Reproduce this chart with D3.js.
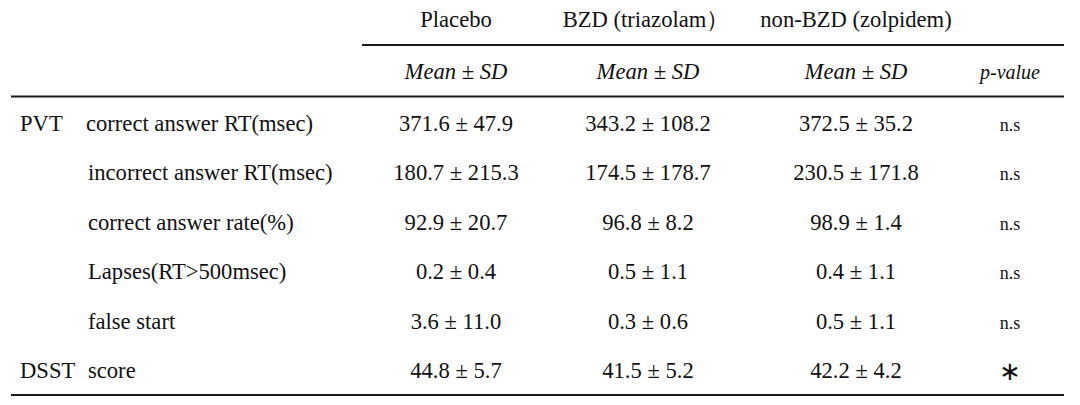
<!DOCTYPE html>
<html>
<head>
<meta charset="utf-8">
<script src="https://cdn.jsdelivr.net/npm/d3@7"></script>
<style>
  html, body { margin: 0; padding: 0; background: #fff; }
  svg { display: block; }
</style>
</head>
<body>
<svg id="chart" width="1080" height="405"></svg>
<script>
// ---- data ----
const groups = ["Placebo", "BZD (triazolam\uFF09", "non-BZD (zolpidem)"];
const subHeaders = ["Mean \u00B1 SD", "Mean \u00B1 SD", "Mean \u00B1 SD", "p-value"];
const tests = ["PVT", "", "", "", "", "DSST"];
const measures = ["correct answer RT(msec)", "incorrect answer RT(msec)", "correct answer rate(%)", "Lapses(RT>500msec)", "false start", "score"];
const placeboMean = [371.6, 180.7, 92.9, 0.2, 3.6, 44.8];
const placeboSD   = [47.9, 215.3, 20.7, 0.4, 11.0, 5.7];
const bzdMean     = [343.2, 174.5, 96.8, 0.5, 0.3, 41.5];
const bzdSD       = [108.2, 178.7, 8.2, 1.1, 0.6, 5.2];
const zolMean     = [372.5, 230.5, 98.9, 0.4, 0.5, 42.2];
const zolSD       = [35.2, 171.8, 1.4, 1.1, 1.1, 4.2];
const pValues     = ["n.s", "n.s", "n.s", "n.s", "n.s", "\u2217"];

// ---- layout ----
const FONT = "'Liberation Serif', 'Times New Roman', Times, 'DejaVu Serif', serif";
const svg = d3.select("#chart")
  .attr("font-family", FONT)
  .style("font-family", FONT);
const colKeys = ["placebo", "bzd", "zol", "p"];
const x = d3.scaleOrdinal().domain(colKeys).range([456, 648, 856, 1010]);
const y = d3.scaleLinear().domain([0, measures.length - 1]).range([131, 378]);
const fs = 22.6;

// rules
const rules = [
  { x1: 362, x2: 1064, y: 45 },
  { x1: 11, x2: 1064, y: 96.5 },
  { x1: 11, x2: 1064, y: 395 }
];
svg.selectAll("line.rule").data(rules).join("line")
  .attr("class", "rule")
  .attr("x1", d => d.x1).attr("x2", d => d.x2)
  .attr("y1", d => d.y).attr("y2", d => d.y)
  .attr("stroke", "#1a1a1a").attr("stroke-width", 2);

function txt(sel) {
  return sel.attr("fill", "#111").style("font-family", FONT).attr("font-size", fs);
}

// group headers
txt(svg.selectAll("text.group").data(groups).join("text"))
  .attr("class", "group")
  .attr("x", (d, i) => x(colKeys[i]) + (i === 1 ? -2 : 0))
  .attr("y", 27)
  .attr("text-anchor", "middle")
  .text(d => d);

// sub headers (italic)
txt(svg.selectAll("text.sub").data(subHeaders).join("text"))
  .attr("class", "sub")
  .attr("x", (d, i) => x(colKeys[i]))
  .attr("y", 79)
  .attr("text-anchor", "middle")
  .attr("font-style", "italic")
  .attr("font-size", (d, i) => i === 3 ? 20 : fs)
  .text(d => d);

// row labels
txt(svg.selectAll("text.test").data(tests).join("text"))
  .attr("class", "test")
  .attr("x", 20)
  .attr("y", (d, i) => y(i))
  .text(d => d);

txt(svg.selectAll("text.measure").data(measures).join("text"))
  .attr("class", "measure")
  .attr("x", (d, i) => i === 0 ? 86 : 88)
  .attr("y", (d, i) => y(i))
  .text(d => d);

// values
const fmt = d3.format(".1f");
const cols = [
  { key: "placebo", m: placeboMean, s: placeboSD },
  { key: "bzd", m: bzdMean, s: bzdSD },
  { key: "zol", m: zolMean, s: zolSD }
];
cols.forEach(c => {
  txt(svg.selectAll("text.v-" + c.key).data(c.m).join("text"))
    .attr("class", "v-" + c.key)
    .attr("x", x(c.key))
    .attr("y", (d, i) => y(i))
    .attr("text-anchor", "middle")
    .text((d, i) => fmt(d) + " \u00B1 " + fmt(c.s[i]));
});

txt(svg.selectAll("text.pv").data(pValues).join("text"))
  .attr("class", "pv")
  .attr("x", x("p"))
  .attr("y", (d, i) => y(i) + (d === "n.s" ? 0 : 2))
  .attr("text-anchor", "middle")
  .attr("font-size", d => d === "n.s" ? 18 : 26)
  .style("font-family", d => d === "n.s" ? FONT : "'DejaVu Sans', sans-serif")
  .text(d => d);
</script>
</body>
</html>
